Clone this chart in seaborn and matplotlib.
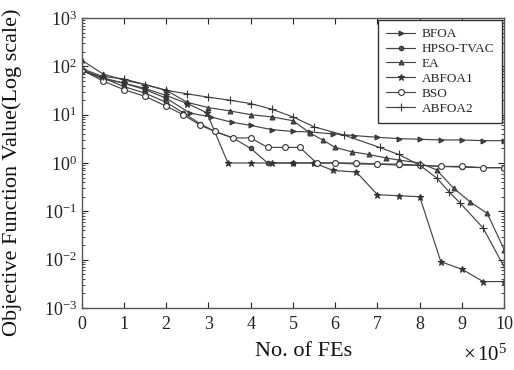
import matplotlib
matplotlib.use("Agg")
import matplotlib.pyplot as plt
import seaborn as sns
import numpy as np
from matplotlib.ticker import LogLocator, NullFormatter, FixedLocator

sns.set_theme(style="ticks")
plt.rcParams['font.family'] = ['Liberation Serif', 'DejaVu Serif']
plt.rcParams['mathtext.fontset'] = 'custom'
plt.rcParams['mathtext.rm'] = 'Liberation Serif'
plt.rcParams['mathtext.it'] = 'Liberation Serif:italic'

# ---- data (x in units of 1e5 FEs) ----
bfoa_x = [0, 0.5, 1, 1.5, 2, 2.56, 3.05, 3.55, 4.0, 4.5, 5.0, 5.4, 5.95, 6.45, 7.0, 7.5, 8.0, 8.5, 9.0, 9.5, 10]
bfoa_y = [80, 58, 45, 33, 22, 10.8, 9.0, 7.0, 6.0, 4.9, 4.5, 4.4, 4.0, 3.7, 3.4, 3.2, 3.1, 3.0, 3.0, 2.9, 2.9]

hpso_x = [0, 0.5, 1, 1.5, 2, 2.4, 2.8, 3.15, 3.58, 4.0, 4.4, 5.0, 5.5, 6.0, 6.5, 7.0, 7.5, 8.0, 8.5, 9.0, 9.5, 10]
hpso_y = [85, 58, 38, 28, 18, 11, 6.5, 4.5, 3.3, 2.0, 1.0, 1.0, 1.0, 1.0, 0.95, 0.95, 0.9, 0.9, 0.85, 0.82, 0.8, 0.8]

ea_x = [0, 0.5, 1, 1.5, 2, 2.5, 3.0, 3.5, 4.0, 4.5, 5.0, 5.4, 5.7, 6.0, 6.4, 6.8, 7.2, 7.5, 8.0, 8.4, 8.8, 9.2, 9.6, 10]
ea_y = [135, 70, 52, 42, 32, 18, 14, 12, 10, 9, 7.5, 4.2, 3.0, 2.1, 1.7, 1.5, 1.27, 1.15, 1.0, 0.72, 0.3, 0.155, 0.09, 0.016]

abfoa1_x = [0, 0.5, 1, 1.5, 2, 2.5, 2.96, 3.46, 4.0, 4.5, 5.0, 5.5, 5.95, 6.5, 7.0, 7.5, 8.0, 8.5, 9.0, 9.5, 10]
abfoa1_y = [85, 55, 45, 35, 25, 17, 11, 1.0, 1.0, 1.0, 1.0, 1.0, 0.7, 0.65, 0.22, 0.21, 0.2, 0.009, 0.0063, 0.0035, 0.0035]

bso_x = [0, 0.5, 1, 1.5, 2, 2.4, 2.8, 3.15, 3.58, 4.0, 4.4, 4.8, 5.16, 5.56, 6.0, 6.5, 7.0, 7.5, 8.0, 8.5, 9.0, 9.5, 10]
bso_y = [85, 50, 33, 24, 15, 10, 6.1, 4.5, 3.3, 3.3, 2.1, 2.1, 2.1, 1.0, 1.0, 1.0, 0.95, 0.95, 0.9, 0.85, 0.85, 0.8, 0.8]

abfoa2_x = [0, 0.5, 1, 1.5, 2, 2.5, 3.0, 3.5, 4.0, 4.5, 5.0, 5.5, 6.2, 7.05, 7.5, 8.0, 8.4, 8.7, 8.95, 9.5, 10]
abfoa2_y = [90, 62, 55, 42, 32, 27, 23, 20, 17, 13, 9, 5.6, 3.8, 2.1, 1.5, 0.9, 0.49, 0.25, 0.15, 0.045, 0.007]

series = [
    ("BFOA", bfoa_x, bfoa_y, dict(marker='>', mfc='#444444', ms=3.5)),
    ("HPSO-TVAC", hpso_x, hpso_y, dict(marker='o', mfc='#555555', ms=3.2)),
    ("EA", ea_x, ea_y, dict(marker='^', mfc='#555555', ms=3.5)),
    ("ABFOA1", abfoa1_x, abfoa1_y, dict(marker='*', mfc='#333333', ms=4.5)),
    ("BSO", bso_x, bso_y, dict(marker='o', mfc='white', ms=4.2)),
    ("ABFOA2", abfoa2_x, abfoa2_y, dict(marker='+', mfc='#444444', ms=5.5)),
]

fig = plt.figure(figsize=(5.14, 3.70), dpi=100)
ax = fig.add_axes([0.159, 0.168, 0.822, 0.783])

for name, xs, ys, st in series:
    sns.lineplot(x=xs, y=ys, ax=ax, color='#444444', linewidth=0.85,
                 marker=st['marker'], markersize=st['ms'],
                 markerfacecolor=st['mfc'], markeredgecolor='#333333',
                 markeredgewidth=0.8, label=name, sort=False, estimator=None)

ax.set_yscale('log')
ax.set_ylim(1e-3, 1e3)
ax.set_xlim(0, 10)
ax.set_xticks(range(0, 11))
ax.set_xticklabels([str(i) for i in range(0, 11)])
ax.yaxis.set_major_locator(FixedLocator([10.0**k for k in range(-3, 4)]))
ax.set_yticklabels([r'$10^{%d}$' % k for k in range(-3, 4)])
ax.yaxis.set_minor_locator(LogLocator(base=10, subs=np.arange(2, 10), numticks=20))
ax.yaxis.set_minor_formatter(NullFormatter())

ax.tick_params(axis='both', which='both', direction='in', top=True, right=True,
               labelsize=13, colors='#222222')
ax.tick_params(axis='both', which='major', length=4, width=0.8)
ax.tick_params(axis='y', which='minor', length=2, width=0.6)
ax.tick_params(axis='x', which='major', pad=6)
for sp in ax.spines.values():
    sp.set_color('#555555')
    sp.set_linewidth(1.0)

ax.set_xlabel('No. of FEs', fontsize=16, color='#111111')
ax.xaxis.set_label_coords(0.526, -0.152)
ax.xaxis.label.set_va('center')
ax.set_ylabel('Objective Function Value(Log scale)', fontsize=16, color='#111111')
ax.yaxis.set_label_coords(-0.165, 0.469)
ax.yaxis.label.set_va('center')
fig.text(0.9, 0.04, r'$\times\,10^{5}$', fontsize=15, color='#111111', va='center', ha='left')

leg = ax.legend(loc='upper right', fontsize=9.5, frameon=True, fancybox=False,
                edgecolor='#333333', framealpha=1, borderaxespad=0.15,
                handlelength=2.2, labelspacing=0.2, borderpad=0.6,
                handletextpad=0.5)
leg.get_frame().set_linewidth(1.0)

fig.savefig('out.png', dpi=100)
